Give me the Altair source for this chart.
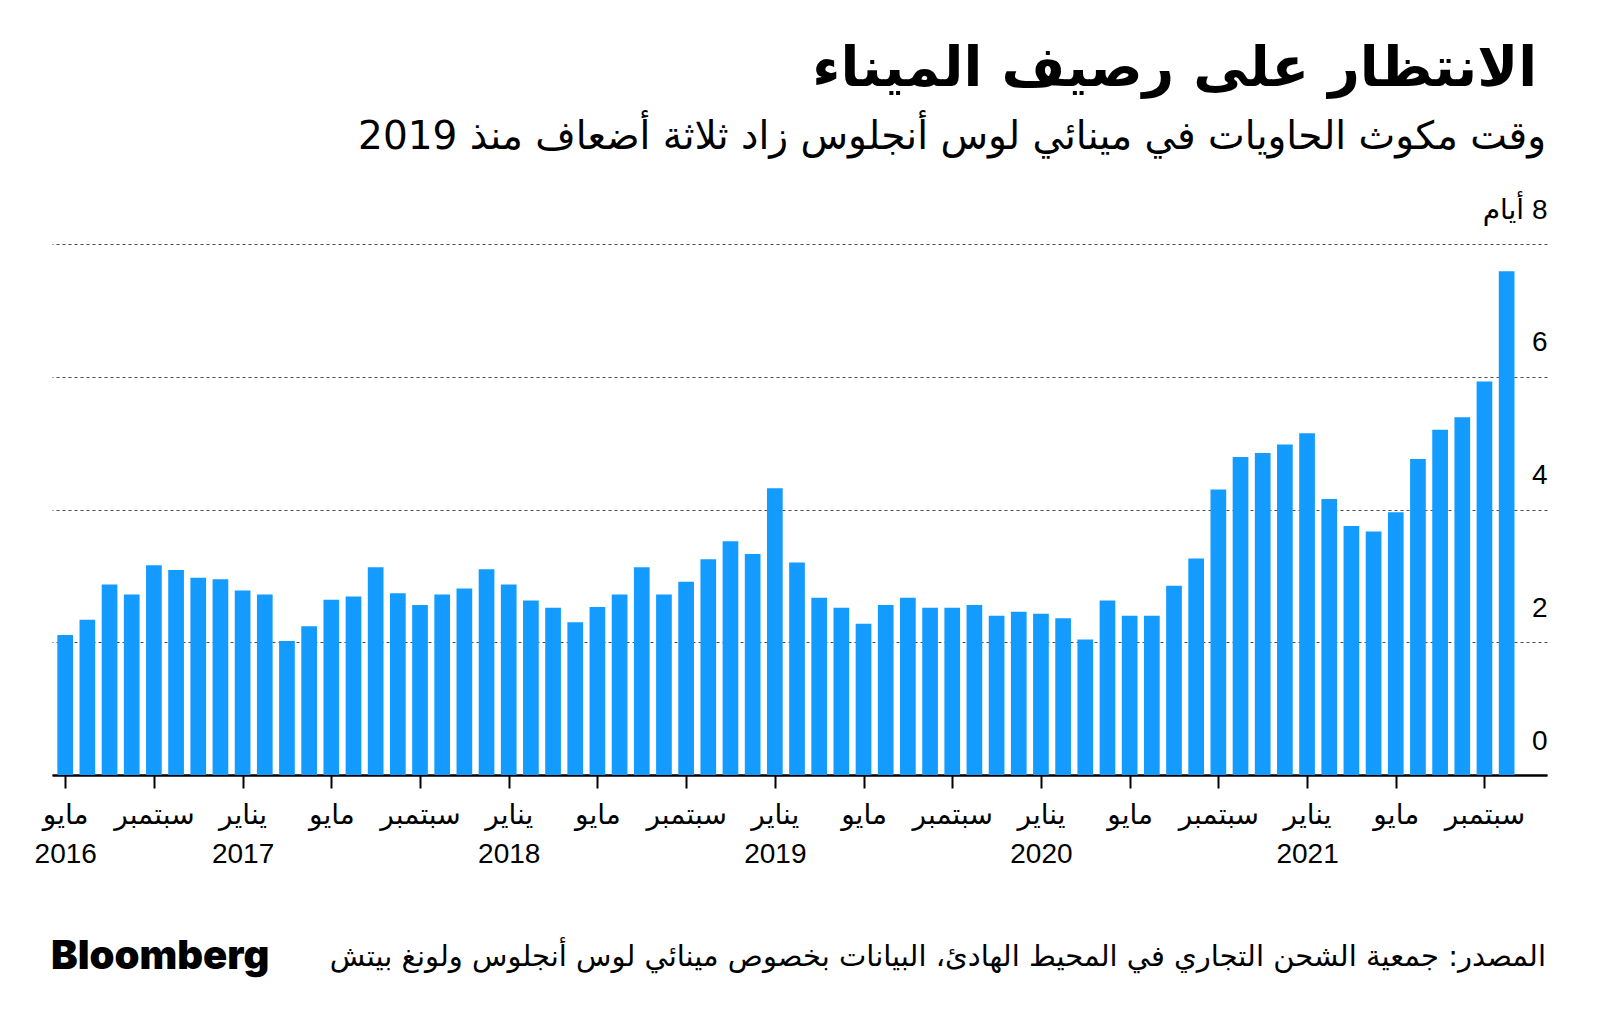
import altair as alt
import pandas as pd

# ---------------- data ----------------
title_text = "الانتظار على رصيف الميناء"
subtitle_text = "\u202bوقت مكوث الحاويات في مينائي لوس أنجلوس زاد ثلاثة أضعاف منذ 2019\u202c"
source_text = "\u202bالمصدر: جمعية الشحن التجاري في المحيط الهادئ، البيانات بخصوص مينائي لوس أنجلوس ولونغ بيتش\u202c"
brand_text = "Bloomberg"
unit_label = "\u202b8 أيام\u202c"

months = pd.date_range("2016-05-01", "2021-10-01", freq="MS").strftime("%Y-%m").tolist()
days = [
    2.11, 2.34, 2.87, 2.72, 3.16, 3.09, 2.97, 2.95, 2.78, 2.72, 2.02, 2.24,
    2.64, 2.69, 3.13, 2.74, 2.56, 2.72, 2.81, 3.10, 2.87, 2.63, 2.52, 2.30,
    2.53, 2.72, 3.13, 2.72, 2.91, 3.25, 3.52, 3.33, 4.32, 3.20, 2.67, 2.52,
    2.28, 2.56, 2.67, 2.52, 2.52, 2.56, 2.40, 2.46, 2.43, 2.36, 2.04, 2.63,
    2.40, 2.40, 2.85, 3.26, 4.30, 4.79, 4.85, 4.98, 5.15, 4.16, 3.75, 3.67,
    3.96, 4.76, 5.20, 5.39, 5.93, 7.59,
]

tick_positions = [0, 4, 8, 12, 16, 20, 24, 28, 32, 36, 40, 44, 48, 52, 56, 60, 64]
tick_months = ["مايو", "سبتمبر", "يناير", "مايو", "سبتمبر", "يناير", "مايو", "سبتمبر",
               "يناير", "مايو", "سبتمبر", "يناير", "مايو", "سبتمبر", "يناير", "مايو", "سبتمبر"]
tick_years = ["2016", "", "2017", "", "", "2018", "", "", "2019", "", "", "2020", "", "", "2021", "", ""]
y_ticks = [0, 2, 4, 6, 8]

# ---------------- build ----------------
df = pd.DataFrame({"month": months, "days": days, "i": list(range(len(months)))})

parts = []
for p, m, y in zip(tick_positions, tick_months, tick_years):
    parts.append(f"datum.value == {p} ? ['{m}', '{y}']")
x_label_expr = " : ".join(parts) + " : ''"

W, H = 1495, 531
BAR_HALF = 0.354
FONT_NUM = "Liberation Sans, DejaVu Sans"
FONT_AR = "DejaVu Sans"

bars = alt.Chart(df).transform_calculate(
    x0=f"datum.i - {BAR_HALF}", x1=f"datum.i + {BAR_HALF}"
).mark_rect(color="#139bff").encode(
    x=alt.X("x0:Q",
            scale=alt.Scale(domain=[-0.595, 66.82], nice=False, zero=False),
            axis=alt.Axis(values=tick_positions, labelExpr=x_label_expr, title=None,
                          grid=False, domainColor="#000000", domainWidth=2.5,
                          tickColor="#000000", tickWidth=2, tickSize=13,
                          labelFont=FONT_NUM, labelFontSize=28, labelColor="#000000",
                          labelPadding=13, labelLineHeight=39, labelAngle=0,
                          labelOverlap=False, labelFlush=False)),
    x2="x1:Q",
    y=alt.Y("days:Q",
            scale=alt.Scale(domain=[0, 8], nice=False),
            axis=alt.Axis(orient="right", values=y_ticks, title=None,
                          domain=False, ticks=False, tickSize=0,
                          grid=True, gridColor="#4d4d4d", gridDash=[3, 3], gridWidth=1,
                          labelAlign="right", labelPadding=0, labelBaseline="middle",
                          labelOffset=-34, labelFont=FONT_NUM, labelFontSize=28,
                          labelColor="#000000",
                          labelExpr=f"datum.value == 8 ? '{unit_label}' : datum.label")),
    y2=alt.datum(0),
    tooltip=["month:N", "days:Q"],
)

def text_layer(txt, x, y, size, align, weight="normal", font=FONT_AR):
    return alt.Chart(pd.DataFrame({"t": [txt]})).mark_text(
        align=align, baseline="middle", fontSize=size, fontWeight=weight,
        font=font, color="#000000"
    ).encode(text="t:N", x=alt.value(x), y=alt.value(y))

title = text_layer(title_text, W - 10, -175, 55, "right", "bold")
subtitle = text_layer(subtitle_text, W - 1, -107, 39, "right")
source = text_layer(source_text, W - 1, 713, 29, "right")
brand = text_layer(brand_text, -1, 713, 40, "left", 900, "Inter, Liberation Sans")

chart = alt.layer(bars, title, subtitle, source, brand).properties(
    width=W, height=H,
    autosize=alt.AutoSizeParams(type="none"),
    padding={"left": 44, "top": 236, "right": 45, "bottom": 245},
).configure(background="#ffffff").configure_view(stroke="transparent", strokeWidth=0)

chart.save("out.html", embed_options={"renderer": "svg", "actions": False})
